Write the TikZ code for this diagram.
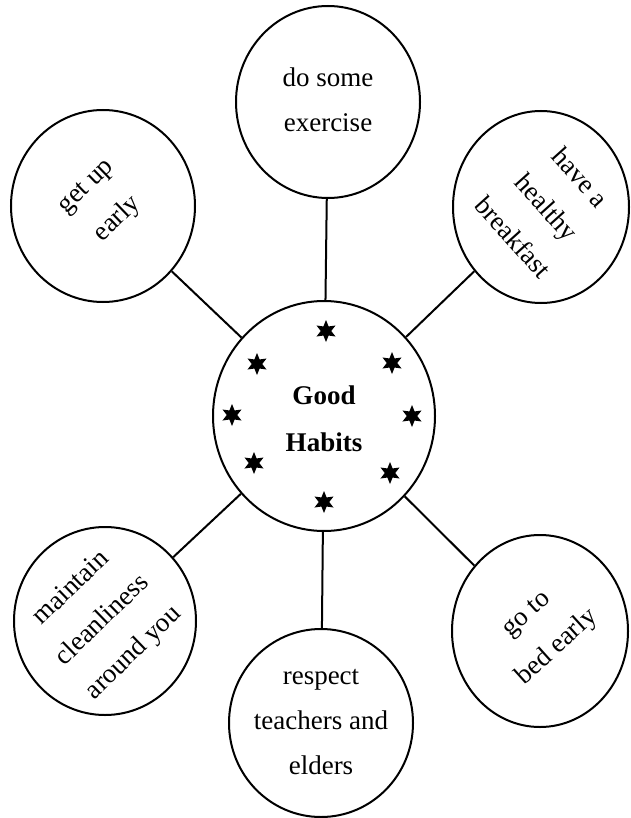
\documentclass[tikz,border=0pt]{standalone}
\usepackage{fontspec}
\setmainfont{Liberation Serif}
\usetikzlibrary{shapes.geometric}
\tikzset{
  bubble/.style={draw, ellipse, line width=2pt, inner sep=0pt},
  lbl/.style={align=center, font=\fontsize{27}{45}\selectfont, inner sep=0pt},
  hublbl/.style={align=center, font=\fontsize{27}{47}\selectfont\bfseries, inner sep=0pt},
  starmark/.style={star, star points=6, star point ratio=2.1, fill=black, inner sep=0pt, minimum size=22pt},
  link/.style={line width=2pt}
}
\begin{document}
\begin{tikzpicture}[x=1pt,y=-1pt]
\useasboundingbox (0,0) rectangle (630,818);
% bubbles
\node[bubble, minimum width=222pt, minimum height=230pt] (hub) at (324,416) {};
\node[bubble, minimum width=184pt, minimum height=192pt] (top) at (328,102) {};
\node[bubble, minimum width=184pt, minimum height=192pt] (getup) at (103,206) {};
\node[bubble, minimum width=176pt, minimum height=192pt] (brk) at (541,207) {};
\node[bubble, minimum width=182pt, minimum height=188pt] (maint) at (105,621) {};
\node[bubble, minimum width=184pt, minimum height=188pt] (resp) at (321,723) {};
\node[bubble, minimum width=176pt, minimum height=192pt] (bed) at (540,631) {};
% connectors
\draw[link] (hub) -- (top);
\draw[link] (hub) -- (getup);
\draw[link] (hub) -- (brk);
\draw[link] (hub) -- (maint);
\draw[link] (hub) -- (resp);
\draw[link] (hub) -- (bed);
% texts
\node[hublbl] (hubt) at (324,419) {Good\\Habits};
\node[lbl] (topt) at (328,100) {do some\\exercise};
\node[lbl, rotate=44] (getupt) at (103,204) {get up\\early};
\node[lbl, rotate=-48] (brkt) at (547,207) {have a\\healthy\\breakfast};
\node[lbl, rotate=44] (maintt) at (103,621) {maintain\\cleanliness\\around you};
\node[lbl, rotate=42] (bedt) at (543,632) {go to\\bed early};
\node[lbl] (respt) at (321,722) {respect\\teachers and\\elders};
% stars
\node[starmark] (s1) at (326,331) {};
\node[starmark] (s2) at (257,364) {};
\node[starmark] (s3) at (392,363) {};
\node[starmark] (s4) at (232,415) {};
\node[starmark] (s5) at (412,416) {};
\node[starmark] (s6) at (254,463) {};
\node[starmark] (s7) at (390,473) {};
\node[starmark] (s8) at (324,502) {};
\end{tikzpicture}
\end{document}
